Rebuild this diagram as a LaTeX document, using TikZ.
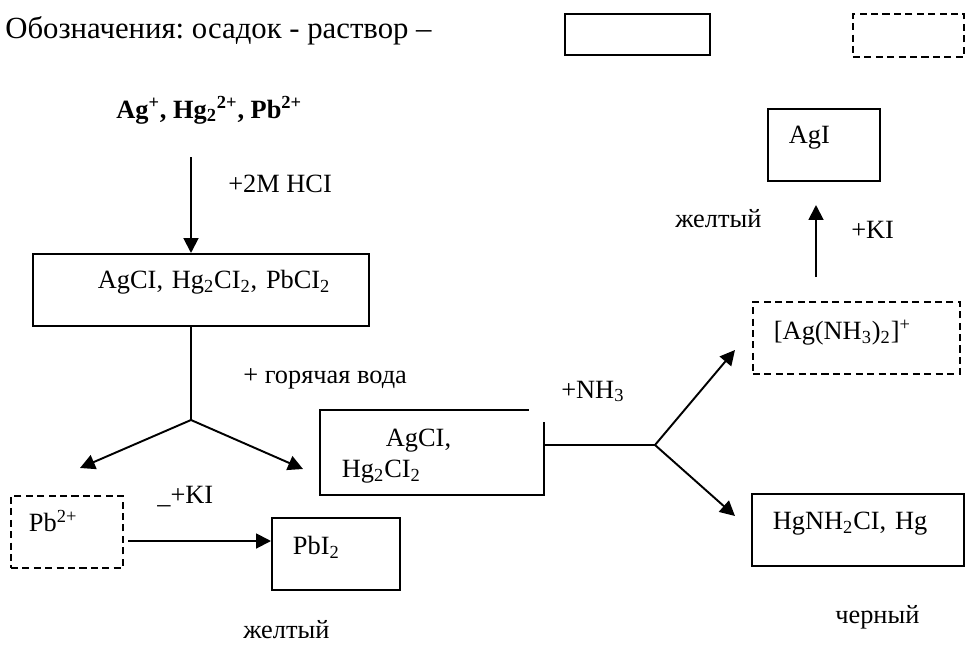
\documentclass[tikz,border=0pt]{standalone}
\usepackage{fontspec}
\setmainfont{Liberation Serif}
\usepackage{tikz}
\usetikzlibrary{arrows.meta,calc}
\frenchspacing

\begin{document}
\begin{tikzpicture}[
  x=0.02cm, y=-0.02cm,
  font=\fontsize{15}{17.6}\selectfont,
  osadok/.style={draw, line width=1.1pt, anchor=north west, align=left,
                 inner xsep=0.42cm, inner ysep=0pt,
                 text height=0.72cm, text depth=0.72cm},
  rastvor/.style={osadok, dash pattern=on 4pt off 2.5pt},
  lbl/.style={anchor=base west, inner sep=0pt},
  lne/.style={line width=1.1pt},
  arr/.style={-{Triangle[length=8.5pt,width=8.5pt]}, line width=1.1pt}
]
\useasboundingbox (0,0) rectangle (965,650);

% ── Legend ───────────────────────────────────────────────────────────────────
\node[lbl, font=\fontsize{17.5}{20}\selectfont] (legend) at (5,38)
  {Обозначения: осадок - раствор –};
\node[osadok, text width=2.06cm, text height=0.41cm, text depth=0.41cm]
  (legosadok) at (564,13) {};
\node[rastvor, text width=1.38cm, text height=0.43cm, text depth=0.43cm]
  (legrastvor) at (852,13) {};

% ── Starting ions and chlorides ──────────────────────────────────────────────
\node[lbl, font=\fontsize{15}{17.6}\selectfont\bfseries] (ions) at (116,118)
  {Ag\textsuperscript{+}, Hg\textsubscript{2}\textsuperscript{2+}, Pb\textsuperscript{2+}};
\node[osadok, text width=5.88cm, text height=0.7cm, text depth=0.74cm]
  (chlorides) at (32,253)
  {\hspace*{0.88cm}AgCI, Hg\textsubscript{2}CI\textsubscript{2}, PbCI\textsubscript{2}};
\node[lbl] (hcl) at (228,192) {+2M HCI};
\node[lbl] (water) at (243,383) {+ горячая вода};

% ── Lead branch ──────────────────────────────────────────────────────────────
\node[rastvor, text width=1.52cm, inner xsep=0.36cm]
  (pb) at (10,495) {Pb\textsuperscript{2+}};
\node[osadok, text width=1.72cm, text height=0.74cm, text depth=0.7cm]
  (pbi2) at (271,517) {PbI\textsubscript{2}};
\node[lbl] (kileft) at (157,503) {\_+KI};
\node[lbl] (yellowpb) at (243,638) {желтый};

% ── Silver / mercury branch ──────────────────────────────────────────────────
\node[osadok, draw=none, text width=3.6cm, text height=0.72cm, text depth=0.94cm]
  (agcl) at (320,410)
  {\hspace*{0.88cm}AgCI,\\Hg\textsubscript{2}CI\textsubscript{2}};
\draw[lne] ($(agcl.north east)+(-15,0)$) -- (agcl.north west) -- (agcl.south west)
  -- (agcl.south east) -- ($(agcl.north east)+(0,12)$);
\node[lbl] (nh3) at (561,398) {+NH\textsubscript{3}};
\node[rastvor, text width=3.3cm, text height=0.76cm, text depth=0.68cm]
  (ammine) at (752,301) {[Ag(NH\textsubscript{3})\textsubscript{2}]\textsuperscript{+}};
\node[osadok, text width=1.4cm, text height=0.7cm, text depth=0.74cm]
  (agi) at (767,108) {AgI};
\node[lbl] (yellowag) at (675,227) {желтый};
\node[lbl] (kiright) at (851,238) {+KI};
\node[osadok, text width=3.4cm] (hgnh) at (751,493)
  {HgNH\textsubscript{2}CI, Hg};
\node[lbl] (blackhg) at (835,623) {черный};

% ── Arrows: main column ──────────────────────────────────────────────────────
\coordinate (hclstart) at (191,157);
\coordinate (split1) at (191,420);
\coordinate (tippb) at (80,468);
\coordinate (tipag) at (303,469);
\draw[arr] (hclstart) -- (hclstart |- chlorides.north);
\draw[lne] (split1 |- chlorides.south) -- (split1);
\draw[arr] (split1) -- (tippb);
\draw[arr] (split1) -- (tipag);

% ── Arrow: Pb2+ → PbI2 ───────────────────────────────────────────────────────
\coordinate (kistart) at (128,541);
\draw[arr] (kistart) -- (kistart -| pbi2.west);

% ── Arrows: AgCl, Hg2Cl2 → two outcomes ──────────────────────────────────────
\coordinate (split2) at (655,445);
\coordinate (tipamm) at (735,350);
\coordinate (tiphg) at (735,516);
\draw[lne] (split2 -| agcl.east) -- (split2);
\draw[arr] (split2) -- (tipamm);
\draw[arr] (split2) -- (tiphg);

% ── Arrow: ammine → AgI ──────────────────────────────────────────────────────
\coordinate (agistart) at (816,277);
\coordinate (tipagi) at (816,205);
\draw[arr] (agistart) -- (tipagi);
\end{tikzpicture}
\end{document}
